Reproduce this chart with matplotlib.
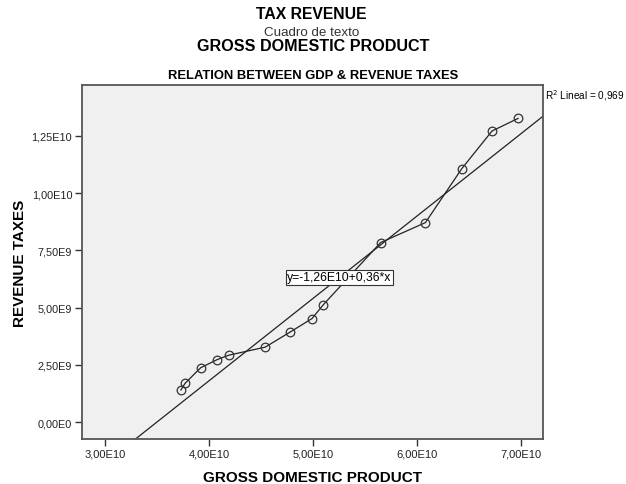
import matplotlib
matplotlib.use("Agg")
import matplotlib.pyplot as plt
import numpy as np

plt.rcParams['font.family'] = ['Liberation Sans', 'DejaVu Sans']

gdp = [3.73e10, 3.77e10, 3.92e10, 4.08e10, 4.19e10, 4.54e10, 4.78e10,
       4.99e10, 5.10e10, 5.65e10, 6.08e10, 6.43e10, 6.72e10, 6.97e10]
revenue = [1.40e9, 1.69e9, 2.37e9, 2.73e9, 2.92e9, 3.27e9, 3.93e9,
           4.52e9, 5.13e9, 7.84e9, 8.71e9, 11.07e9, 12.71e9, 13.26e9]
intercept = -1.26e10
slope = 0.36
r2_text = "R$^2$ Lineal = 0,969"
eq_text = "y=-1,26E10+0,36*x"
x_ticks = [3e10, 4e10, 5e10, 6e10, 7e10]
y_ticks = [0, 2.5e9, 5e9, 7.5e9, 1e10, 1.25e10]
y_tick_labels = ["0,00E0", "2,50E9", "5,00E9", "7,50E9", "1,00E10", "1,25E10"]
x_tick_labels = ["3,00E10", "4,00E10", "5,00E10", "6,00E10", "7,00E10"]

W, H = 626, 485
fig = plt.figure(figsize=(W/100, H/100), dpi=100)
ax = fig.add_axes([82/W, 1-440/H, (543-82)/W, (440-86)/H])
ax.set_facecolor('#F0F0F0')

xmin, xmax = 2.78e10, 7.21e10
ymin, ymax = -0.74e9, 1.472e10
ax.set_xlim(xmin, xmax)
ax.set_ylim(ymin, ymax)

xs = np.array([xmin, xmax])
ax.plot(xs, intercept + slope*xs, color='#222222', lw=0.9, zorder=2)
ax.plot(gdp, revenue, color='#222222', lw=0.9, marker='o', markersize=6.2,
        markerfacecolor='none', markeredgecolor='#333333', markeredgewidth=0.9, zorder=3)

ax.text(5.255e10, 6.33e9, eq_text, ha='center', va='center', fontsize=8.8,
        bbox=dict(boxstyle='square,pad=0.12', fc='white', ec='#333333', lw=0.8), zorder=4)

ax.set_xticks(x_ticks)
ax.set_xticklabels(x_tick_labels)
ax.set_yticks(y_ticks)
ax.set_yticklabels(y_tick_labels)
ax.tick_params(direction='out', length=5, width=1, colors='#333333', labelcolor='#222222', pad=2)
ax.tick_params(axis='x', labelsize=8)
ax.tick_params(axis='y', labelsize=7.8)
for s in ax.spines.values():
    s.set_color('#555555')
    s.set_linewidth(1.3)

ax.set_xlabel("GROSS DOMESTIC PRODUCT", fontsize=11, fontweight='bold', va='center')
ax.set_ylabel("REVENUE TAXES", fontsize=11, fontweight='bold', va='center')
ax.xaxis.set_label_coords(0.5, (440-478)/354)
ax.yaxis.set_label_coords((20-82)/461, 0.5)

fig.text(311/W, 1-19/H, "TAX REVENUE", ha='center', va='baseline', fontsize=11.3, fontweight='bold')
fig.text(312/W, 1-35.5/H, "Cuadro de texto", ha='center', va='baseline', fontsize=9.6, color='#333333')
fig.text(313/W, 1-51/H, "GROSS DOMESTIC PRODUCT", ha='center', va='baseline', fontsize=11.6, fontweight='bold')
fig.text(313/W, 1-79/H, "RELATION BETWEEN GDP & REVENUE TAXES", ha='center', va='baseline',
         fontsize=9.4, fontweight='bold')
fig.text(545/W, 1-100/H, r2_text, ha='left', va='baseline', fontsize=7.2)

fig.savefig("out.png", dpi=100)
